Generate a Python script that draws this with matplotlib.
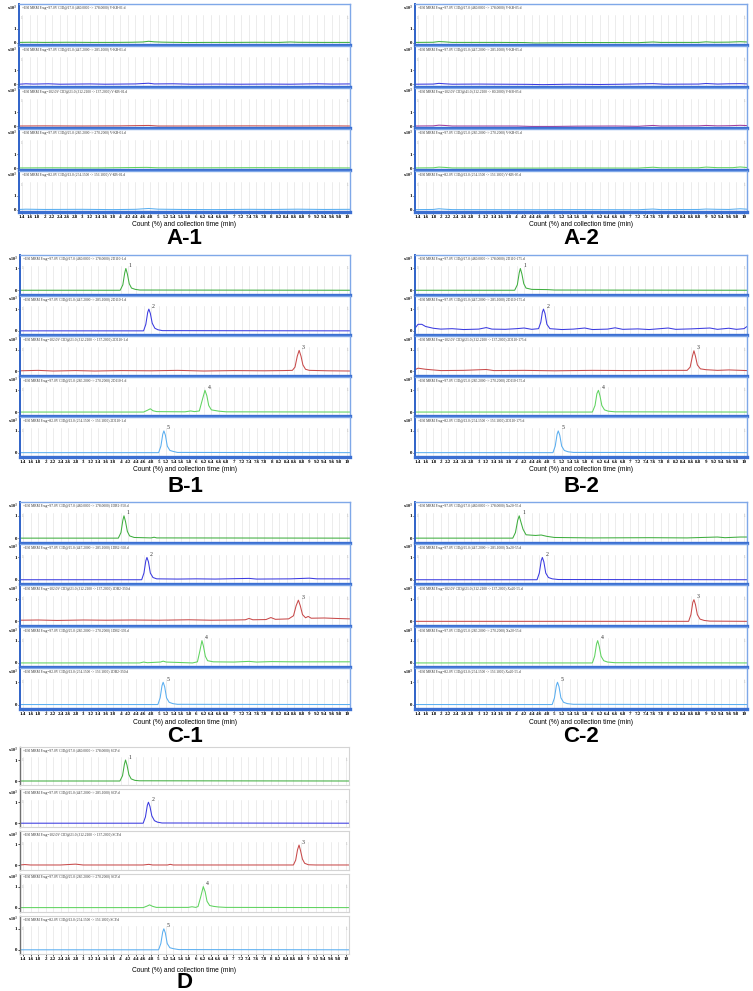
import matplotlib.pyplot as plt

# -------------------------
# DATA
# -------------------------
x_ticks = [1.4, 1.6, 1.8, 2, 2.2, 2.4, 2.6, 2.8, 3, 3.2, 3.4, 3.6, 3.8, 4, 4.2, 4.4,
           4.6, 4.8, 5, 5.2, 5.4, 5.6, 5.8, 6, 6.2, 6.4, 6.6, 6.8, 7, 7.2, 7.4, 7.6,
           7.8, 8, 8.2, 8.4, 8.6, 8.8, 9, 9.2, 9.4, 9.6, 9.8, 10]
x_tick_labels = ["1.4", "1.6", "1.8", "2", "2.2", "2.4", "2.6", "2.8", "3", "3.2", "3.4",
                 "3.6", "3.8", "4", "4.2", "4.4", "4.6", "4.8", "5", "5.2", "5.4", "5.6",
                 "5.8", "6", "6.2", "6.4", "6.6", "6.8", "7", "7.2", "7.4", "7.6", "7.8",
                 "8", "8.2", "8.4", "8.6", "8.8", "9", "9.2", "9.4", "9.6", "9.8", "10"]

headers = [
    "+ESI MRM Frag=97.0V CID@17.0 (480.0000 -> 178.0000) ",
    "+ESI MRM Frag=97.0V CID@15.0 (447.2000 -> 285.1000) ",
    "+ESI MRM Frag=102.0V CID@21.0 (312.2100 -> 137.2000) ",
    "+ESI MRM Frag=97.0V CID@25.0 (285.2000 -> 270.2000) ",
    "+ESI MRM Frag=82.0V CID@13.0 (254.1500 -> 156.1000) ",
]
headers_a2 = headers[:2] + ["+ESI MRM Frag=102.0V CID@41.0 (312.2100 -> 80.2000) "] + headers[3:]

colors = ["#3fae3f", "#3a3ae0", "#c84a4a", "#5fd35f", "#5aaef0"]
colors_a2 = ["#3fae3f", "#3a3ae0", "#a03c9c", "#5fd35f", "#5aaef0"]

# blank samples (A)
a1_traces = [
    [(1.32, 0.02), (1.6, 0.03), (2.0, 0.02), (2.6, 0.03), (3.2, 0.02), (3.8, 0.02), (4.3, 0.03),
     (4.6, 0.05), (4.75, 0.1), (4.9, 0.06), (5.1, 0.04), (5.3, 0.03), (5.8, 0.01), (6.3, 0.02),
     (7.0, 0.02), (7.6, 0.03), (8.2, 0.02), (8.5, 0.05), (8.7, 0.03), (9.3, 0.02), (10.08, 0.02)],
    [(1.32, 0.02), (1.5, 0.05), (1.7, 0.03), (2.1, 0.05), (2.4, 0.02), (3.2, 0.04), (3.6, 0.02),
     (4.4, 0.04), (4.75, 0.09), (4.9, 0.04), (5.4, 0.05), (5.9, 0.02), (6.5, 0.03), (7.2, 0.02),
     (7.9, 0.03), (8.5, 0.02), (9.2, 0.05), (9.6, 0.03), (10.08, 0.04)],
    [(1.32, 0.02), (2.0, 0.03), (3.0, 0.02), (4.0, 0.03), (4.75, 0.06), (5.0, 0.02), (6.0, 0.02),
     (7.5, 0.03), (8.6, 0.02), (9.5, 0.03), (10.08, 0.02)],
    [(1.32, 0.01), (2.2, 0.02), (3.4, 0.01), (4.7, 0.05), (5.0, 0.02), (6.2, 0.02), (7.7, 0.03),
     (8.9, 0.02), (10.08, 0.01)],
    [(1.32, 0.03), (1.5, 0.05), (2.0, 0.03), (3.0, 0.04), (3.8, 0.02), (4.4, 0.04), (4.75, 0.1),
     (5.0, 0.05), (5.6, 0.03), (6.5, 0.02), (7.4, 0.04), (8.0, 0.03), (8.7, 0.05), (9.4, 0.03),
     (10.08, 0.04)],
]
a2_traces = [
    [(1.32, 0.02), (1.8, 0.03), (1.95, 0.08), (2.1, 0.06), (2.3, 0.02), (3.5, 0.02), (4.2, 0.01),
     (4.5, -0.02), (4.9, -0.01), (5.5, 0.01), (6.5, 0.01), (7.2, 0.0), (7.6, 0.05), (7.8, 0.02),
     (8.8, 0.02), (9.0, 0.06), (9.2, 0.03), (9.6, 0.04), (9.9, 0.07), (10.08, 0.05)],
    [(1.32, 0.02), (1.8, 0.03), (1.95, 0.08), (2.1, 0.05), (2.3, 0.02), (3.0, 0.03), (3.6, 0.02),
     (4.3, 0.01), (4.7, -0.01), (5.4, 0.02), (6.2, 0.0), (6.8, 0.02), (7.6, 0.06), (7.9, 0.02),
     (8.8, 0.03), (9.0, 0.07), (9.3, 0.03), (9.6, 0.05), (9.9, 0.06), (10.08, 0.04)],
    [(1.32, 0.02), (1.8, 0.03), (1.95, 0.08), (2.1, 0.06), (2.3, 0.02), (4.0, 0.02), (4.4, -0.01),
     (5.0, -0.01), (5.6, 0.01), (6.6, 0.02), (7.2, 0.0), (7.6, 0.06), (7.8, 0.02), (8.8, 0.03),
     (9.0, 0.06), (9.3, 0.03), (9.6, 0.04), (9.9, 0.07), (10.08, 0.05)],
    [(1.32, 0.01), (1.8, 0.02), (1.95, 0.07), (2.1, 0.05), (2.3, 0.01), (4.5, 0.0), (5.5, 0.01),
     (7.2, 0.0), (7.6, 0.06), (7.8, 0.02), (8.8, 0.02), (9.0, 0.07), (9.3, 0.03), (9.7, 0.03),
     (9.9, 0.08), (10.08, 0.04)],
    [(1.32, 0.02), (1.8, 0.03), (1.95, 0.08), (2.1, 0.05), (2.3, 0.02), (4.5, 0.01), (5.5, 0.02),
     (7.2, 0.01), (7.6, 0.06), (7.8, 0.02), (8.8, 0.03), (9.0, 0.06), (9.3, 0.04), (9.6, 0.03),
     (9.9, 0.08), (10.08, 0.05)],
]

# spiked samples (B-1)
b1_traces = [
    [(1.32, 0.0), (3.98, 0.0), (4.05, 0.25), (4.1, 0.8), (4.13, 1.0), (4.17, 0.75), (4.22, 0.3),
     (4.28, 0.1), (4.38, 0.04), (4.5, 0.01), (10.08, 0.0)],
    [(1.32, 0.0), (4.6, 0.0), (4.66, 0.3), (4.71, 0.85), (4.74, 1.0), (4.78, 0.8), (4.83, 0.35),
     (4.9, 0.12), (4.98, 0.05), (5.1, 0.01), (10.08, 0.0)],
    [(1.32, 0.03), (1.8, 0.05), (2.2, 0.02), (2.8, 0.04), (3.3, 0.02), (4.0, 0.04), (4.8, 0.03),
     (5.5, 0.05), (6.2, 0.02), (7.0, 0.04), (7.8, 0.03), (8.3, 0.04), (8.55, 0.05), (8.62, 0.2),
     (8.68, 0.7), (8.73, 0.97), (8.78, 0.7), (8.83, 0.3), (8.9, 0.1), (9.0, 0.05), (9.5, 0.03),
     (10.08, 0.02)],
    [(1.32, 0.0), (4.6, 0.0), (4.7, 0.08), (4.78, 0.15), (4.85, 0.06), (4.95, 0.02), (5.7, 0.01),
     (5.85, 0.05), (5.95, 0.02), (6.08, 0.05), (6.15, 0.5), (6.23, 1.0), (6.28, 0.75), (6.33, 0.3),
     (6.4, 0.1), (6.5, 0.07), (6.6, 0.04), (6.8, 0.01), (10.08, 0.0)],
    [(1.32, 0.0), (5.0, 0.0), (5.06, 0.3), (5.11, 0.85), (5.14, 1.0), (5.18, 0.8), (5.23, 0.3),
     (5.3, 0.1), (5.4, 0.05), (5.5, 0.01), (10.08, 0.0)],
]

# spiked samples (B-2)
b2_traces = [
    [(1.32, 0.0), (3.95, 0.0), (4.02, 0.25), (4.07, 0.8), (4.1, 1.0), (4.14, 0.75), (4.19, 0.3),
     (4.25, 0.1), (4.4, 0.04), (4.8, 0.03), (5.0, 0.01), (10.08, 0.0)],
    [(1.32, 0.12), (1.4, 0.3), (1.5, 0.3), (1.6, 0.2), (1.8, 0.12), (2.0, 0.08), (2.3, 0.1),
     (2.6, 0.06), (3.0, 0.08), (3.2, 0.15), (3.35, 0.08), (3.7, 0.07), (4.0, 0.1), (4.2, 0.13),
     (4.4, 0.07), (4.58, 0.1), (4.64, 0.4), (4.68, 0.85), (4.71, 1.0), (4.75, 0.8), (4.8, 0.3),
     (4.88, 0.1), (5.2, 0.06), (5.5, 0.08), (5.8, 0.13), (6.0, 0.06), (6.4, 0.08), (6.6, 0.14),
     (6.8, 0.07), (7.2, 0.09), (7.5, 0.06), (8.0, 0.13), (8.2, 0.07), (8.6, 0.09), (9.1, 0.13),
     (9.3, 0.07), (9.6, 0.12), (9.8, 0.07), (10.0, 0.1), (10.08, 0.2)],
    [(1.32, 0.08), (1.4, 0.15), (1.6, 0.1), (2.0, 0.04), (2.6, 0.05), (3.2, 0.09), (3.4, 0.04),
     (4.2, 0.05), (5.0, 0.03), (6.0, 0.05), (7.0, 0.04), (8.0, 0.05), (8.5, 0.05), (8.58, 0.2),
     (8.64, 0.7), (8.68, 0.95), (8.72, 0.7), (8.77, 0.3), (8.85, 0.12), (9.0, 0.08), (9.3, 0.05),
     (9.6, 0.07), (10.08, 0.04)],
    [(1.32, 0.0), (6.0, 0.0), (6.07, 0.3), (6.12, 0.85), (6.16, 1.0), (6.2, 0.75), (6.25, 0.3),
     (6.32, 0.1), (6.42, 0.04), (6.6, 0.01), (10.08, 0.0)],
    [(1.32, 0.0), (4.96, 0.0), (5.02, 0.3), (5.07, 0.85), (5.1, 1.0), (5.14, 0.8), (5.19, 0.3),
     (5.26, 0.1), (5.36, 0.04), (5.5, 0.01), (10.08, 0.0)],
]

# spiked samples (C-1)
c1_traces = [
    [(1.32, 0.0), (3.93, 0.0), (4.0, 0.25), (4.05, 0.8), (4.08, 1.0), (4.12, 0.75), (4.17, 0.3),
     (4.23, 0.1), (4.35, 0.03), (4.8, 0.01), (4.88, 0.04), (4.95, 0.01), (10.08, 0.0)],
    [(1.32, 0.0), (4.55, 0.0), (4.61, 0.3), (4.66, 0.85), (4.69, 1.0), (4.73, 0.8), (4.78, 0.3),
     (4.85, 0.1), (4.95, 0.04), (5.5, 0.03), (6.0, 0.04), (6.5, 0.03), (7.4, 0.06), (7.6, 0.03),
     (8.5, 0.04), (9.0, 0.07), (9.2, 0.04), (10.08, 0.04)],
    [(1.32, 0.05), (1.8, 0.06), (2.3, 0.04), (3.0, 0.06), (3.6, 0.05), (4.3, 0.06), (5.0, 0.05),
     (5.8, 0.07), (6.4, 0.05), (7.0, 0.06), (7.3, 0.07), (7.4, 0.13), (7.5, 0.07), (7.85, 0.08),
     (7.98, 0.17), (8.1, 0.09), (8.45, 0.11), (8.58, 0.25), (8.65, 0.7), (8.71, 0.95),
     (8.76, 0.7), (8.82, 0.3), (8.9, 0.16), (8.97, 0.22), (9.05, 0.14), (9.4, 0.15), (9.7, 0.13),
     (10.08, 0.11)],
    [(1.32, 0.0), (4.5, 0.0), (4.6, 0.04), (4.7, 0.01), (5.05, 0.04), (5.12, 0.08), (5.2, 0.04),
     (5.9, 0.0), (6.03, 0.05), (6.09, 0.5), (6.15, 1.0), (6.19, 0.75), (6.24, 0.3), (6.3, 0.1),
     (6.45, 0.05), (7.0, 0.04), (7.4, 0.07), (7.6, 0.04), (8.0, 0.06), (8.5, 0.05), (9.0, 0.05),
     (10.08, 0.05)],
    [(1.32, 0.0), (4.98, 0.0), (5.04, 0.3), (5.09, 0.85), (5.12, 1.0), (5.16, 0.8), (5.21, 0.3),
     (5.28, 0.1), (5.38, 0.04), (5.5, 0.01), (10.08, 0.0)],
]

# spiked samples (C-2)
c2_traces = [
    [(1.32, 0.0), (3.9, 0.0), (3.97, 0.25), (4.03, 0.8), (4.07, 1.0), (4.11, 0.75), (4.17, 0.4),
     (4.25, 0.15), (4.5, 0.12), (4.65, 0.14), (4.8, 0.08), (5.0, 0.03), (6.0, 0.01), (7.5, 0.02),
     (8.5, 0.01), (9.3, 0.05), (9.5, 0.02), (9.9, 0.05), (10.08, 0.05)],
    [(1.32, 0.0), (4.54, 0.0), (4.6, 0.3), (4.65, 0.85), (4.68, 1.0), (4.72, 0.8), (4.77, 0.3),
     (4.84, 0.1), (4.94, 0.04), (5.1, 0.01), (10.08, 0.0)],
    [(1.32, 0.0), (8.54, 0.0), (8.6, 0.3), (8.65, 0.85), (8.68, 0.97), (8.72, 0.75), (8.77, 0.3),
     (8.84, 0.1), (8.95, 0.04), (9.1, 0.01), (10.08, 0.0)],
    [(1.32, 0.0), (6.0, 0.0), (6.06, 0.3), (6.11, 0.85), (6.14, 1.0), (6.18, 0.75), (6.23, 0.3),
     (6.3, 0.1), (6.4, 0.04), (6.6, 0.01), (10.08, 0.0)],
    [(1.32, 0.0), (4.94, 0.0), (5.0, 0.3), (5.05, 0.85), (5.08, 1.0), (5.12, 0.8), (5.17, 0.3),
     (5.24, 0.1), (5.34, 0.04), (5.5, 0.01), (10.08, 0.0)],
]

# standard (D)
d_traces = [
    [(1.32, 0.0), (3.98, 0.0), (4.05, 0.25), (4.1, 0.8), (4.13, 1.0), (4.17, 0.75), (4.22, 0.3),
     (4.28, 0.1), (4.38, 0.03), (4.5, 0.01), (10.08, 0.0)],
    [(1.32, 0.0), (4.6, 0.0), (4.66, 0.3), (4.71, 0.85), (4.74, 1.0), (4.78, 0.8), (4.83, 0.35),
     (4.9, 0.12), (4.98, 0.05), (5.1, 0.01), (10.08, 0.0)],
    [(1.32, 0.02), (1.45, 0.04), (1.6, 0.02), (2.4, 0.02), (2.8, 0.06), (3.0, 0.02), (4.6, 0.02),
     (4.75, 0.05), (4.85, 0.02), (5.25, 0.02), (5.32, 0.05), (5.4, 0.02), (8.6, 0.02),
     (8.66, 0.25), (8.71, 0.75), (8.75, 0.97), (8.79, 0.7), (8.84, 0.3), (8.9, 0.1), (9.0, 0.03),
     (9.2, 0.02), (10.08, 0.02)],
    [(1.32, 0.0), (4.6, 0.0), (4.7, 0.07), (4.77, 0.13), (4.85, 0.06), (4.95, 0.01), (5.8, 0.01),
     (5.9, 0.04), (6.0, 0.01), (6.06, 0.05), (6.13, 0.5), (6.2, 1.0), (6.25, 0.75), (6.3, 0.3),
     (6.37, 0.1), (6.47, 0.06), (6.6, 0.03), (6.8, 0.01), (10.08, 0.0)],
    [(1.32, 0.0), (5.01, 0.0), (5.07, 0.3), (5.12, 0.85), (5.15, 1.0), (5.19, 0.8), (5.24, 0.3),
     (5.31, 0.1), (5.41, 0.05), (5.55, 0.01), (10.08, 0.0)],
]

# -------------------------
# FIGURE
# -------------------------
W, H = 753, 991
fig = plt.figure(figsize=(W / 100, H / 100), dpi=100)
SERIF = ["Liberation Serif", "DejaVu Serif"]
SANS = ["Liberation Sans", "DejaVu Sans"]


def draw_panel(traces, box, label, label_y, sample, hdrs, cols, ylim, peaks, plain=False):
    left, top, right, bottom = box
    sub_h = (bottom - top) / 5
    for i, tr in enumerate(traces):
        y_top = top + i * sub_h
        gap = 4 if plain else 1
        ax = fig.add_axes([left / W, 1 - (y_top + sub_h - gap) / H,
                           (right - left) / W, (sub_h - gap) / H])
        for t in x_ticks:
            ax.axvline(t, ymin=0.0, ymax=0.73, color="#e2e2e2", lw=0.45, zorder=0)
        ts = [p[0] for p in tr]
        ys = [p[1] for p in tr]
        ax.plot(ts, ys, color=cols[i], lw=0.75, zorder=2)
        ax.set_xlim(1.32, 10.08)
        ax.set_ylim(*ylim)
        ax.set_yticks([0, 1])
        ax.set_yticklabels(["0", "1"], fontsize=3.5, fontweight="bold", family=SERIF)
        ax.tick_params(axis="y", length=1.5, width=0.5, pad=0.8)
        ax.set_xticks(x_ticks)
        if i == 4:
            ax.set_xticklabels(x_tick_labels, fontsize=3.6, fontweight="bold", family=SERIF)
            ax.tick_params(axis="x", length=1.5, width=0.5, pad=0.8)
        else:
            ax.set_xticklabels([])
            ax.tick_params(axis="x", length=0)
        # frame
        if plain:
            for s in ax.spines.values():
                s.set_color("#d4d4d4")
                s.set_linewidth(0.8)
            ax.spines["left"].set_color("#707070")
            ax.spines["left"].set_linewidth(1.0)
        else:
            for s in ["top", "right"]:
                ax.spines[s].set_color("#7fa8e8")
                ax.spines[s].set_linewidth(1.0)
            ax.spines["left"].set_color("#2f62c8")
            ax.spines["left"].set_linewidth(1.4)
            ax.spines["bottom"].set_color("#3b6fd2")
            ax.spines["bottom"].set_linewidth(2.4)
        ax.text(0.008, 0.9, hdrs[i] + sample, transform=ax.transAxes, fontsize=2.6,
                family=SERIF, color="#333333", va="center", ha="left")
        ax.text(-0.006, 0.9, "x10$^{3}$", transform=ax.transAxes, fontsize=3.0,
                fontweight="bold", family=SERIF, va="center", ha="right")
        ax.text(0.004, 0.66, "1", transform=ax.transAxes, fontsize=2.4, color="#aaaaaa",
                family=SERIF, va="center", ha="left")
        ax.text(0.996, 0.66, "1", transform=ax.transAxes, fontsize=2.4, color="#aaaaaa",
                family=SERIF, va="center", ha="right")
        if peaks:
            apex = max(tr, key=lambda p: p[1])
            ax.text(apex[0] + 0.08, apex[1] + 0.02, str(i + 1), fontsize=4.2,
                    family=SERIF, color="#333333", va="bottom", ha="left")
    cx = (left + right) / 2 / W
    fig.text(cx, 1 - (bottom + 12) / H, "Count (%) and collection time (min)",
             fontsize=4.8, family=SANS, ha="center", va="center")
    fig.text(cx, 1 - label_y / H, label, fontsize=16, fontweight="bold", family=SANS,
             ha="center", va="center")


YA = (-0.15, 2.75)
YB = (-0.2, 1.62)
draw_panel(a1_traces, (19, 4, 350, 213), "A-1", 238, "V-KB-01.d", headers, colors, YA, False)
draw_panel(a2_traces, (415, 4, 747, 213), "A-2", 238, "V-KB-05.d", headers_a2, colors_a2, YA, False)
draw_panel(b1_traces, (20, 255, 350, 458), "B-1", 487, "2D110-1.d", headers, colors, YB, True)
draw_panel(b2_traces, (415, 255, 747, 458), "B-2", 487, "2D110-175.d", headers, colors, YB, True)
draw_panel(c1_traces, (20, 502, 350, 710), "C-1", 737, "1DB2-350.d", headers, colors, YB, True)
draw_panel(c2_traces, (415, 502, 747, 710), "C-2", 737, "Xa20-55.d", headers, colors, YB, True)
draw_panel(d_traces, (20, 747, 349, 958), "D", 982, "SCP.d", headers, colors, YB, True, plain=True)

fig.savefig("out.png", dpi=100)
